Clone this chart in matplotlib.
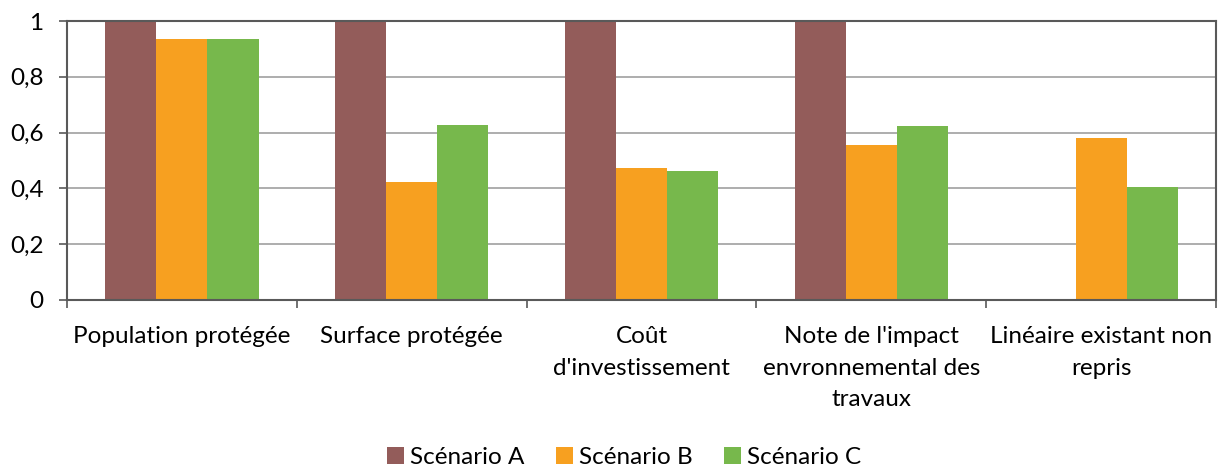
import numpy as np
import matplotlib.pyplot as plt
from matplotlib.ticker import FuncFormatter, FixedLocator

categories = ["Population protégée", "Surface protégée", "Coût\nd'investissement",
              "Note de l'impact\nenvronnemental des\ntravaux", "Linéaire existant non\nrepris"]
series = ["Scénario A", "Scénario B", "Scénario C"]
scen_a = [1.0, 1.0, 1.0, 1.0, 0.0]
scen_b = [0.935, 0.423, 0.472, 0.556, 0.581]
scen_c = [0.936, 0.626, 0.463, 0.625, 0.405]
colors = ["#935C5A", "#F7A020", "#77B84C"]

plt.rcParams['font.family'] = ['Lato', 'DejaVu Sans']

fig = plt.figure(figsize=(12.19, 4.67), dpi=100)
ax = fig.add_axes([0.055, 0.358, 0.9425, 0.597])

x = np.arange(len(categories))
w = 1 / 4.5
for i, (vals, name) in enumerate(zip([scen_a, scen_b, scen_c], series)):
    ax.bar(x + (i - 1) * w, vals, width=w, color=colors[i], label=name, zorder=2)

ax.set_xlim(-0.5, len(categories) - 0.5)
ax.set_ylim(0, 1)
ax.set_yticks(np.arange(0, 1.01, 0.2))
ax.yaxis.set_major_formatter(FuncFormatter(lambda v, p: f"{v:.1f}".replace(".", ",").replace("0,0", "0").replace("1,0", "1")))
ax.grid(axis='y', color='#A0A0A0', linewidth=1.2, zorder=0)

ax.set_xticks(x)
ax.set_xticklabels(categories, fontsize=17.5, linespacing=1.62, va='top')
ax.tick_params(axis='x', length=0, pad=19)
ax.xaxis.set_minor_locator(FixedLocator(np.arange(-0.5, len(categories), 1)))
ax.tick_params(axis='x', which='minor', length=6, color='#595959', width=1.2)
ax.tick_params(axis='y', labelsize=17.5, length=6, color='#595959', width=1.2, pad=11)

for s in ax.spines.values():
    s.set_color('#595959')
    s.set_linewidth(1.5)

fig.legend(loc='center', ncol=3, frameon=False, fontsize=17.5,
           bbox_to_anchor=(0.512, 0.02), handlelength=0.7, handleheight=0.7,
           handletextpad=0.25, columnspacing=1.3)

fig.savefig("out.png", dpi=100)
